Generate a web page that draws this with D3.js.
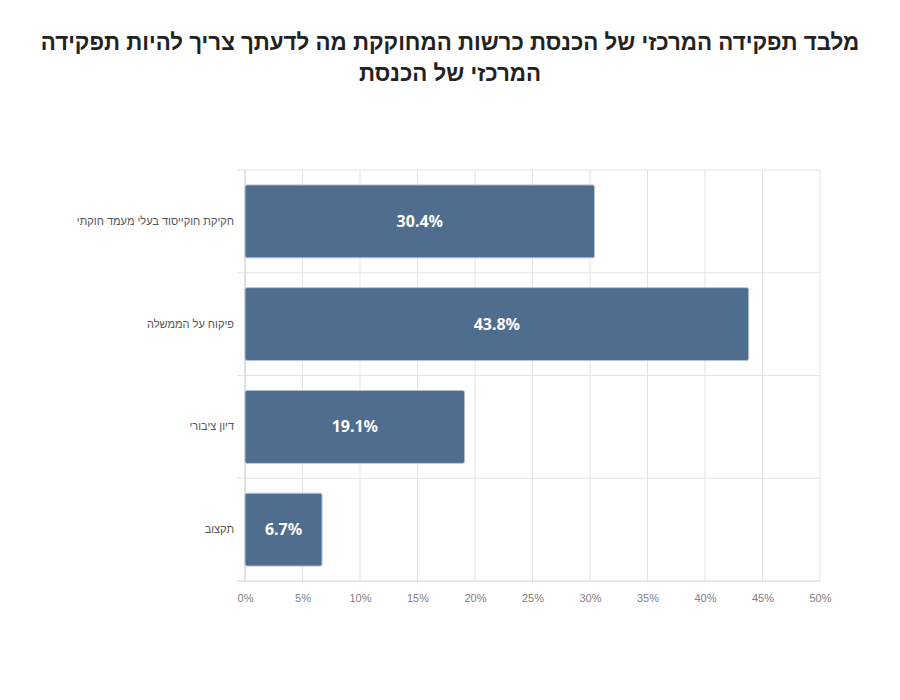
<!DOCTYPE html>
<html lang="he">
<head>
<meta charset="utf-8">
<script src="https://cdn.jsdelivr.net/npm/d3@7"></script>
<style>
  body { margin: 0; background: #fff; }
  svg text { font-family: "Liberation Sans", Arial, "DejaVu Sans", sans-serif; }
</style>
</head>
<body>
<div id="chart"></div>
<script>
// chart data
var titleLines = ["מלבד תפקידה המרכזי של הכנסת כרשות המחוקקת מה לדעתך צריך להיות תפקידה",
                  "המרכזי של הכנסת"];
var categories = ["חקיקת חוקייסוד בעלי מעמד חוקתי", "פיקוח על הממשלה", "דיון ציבורי", "תקצוב"];
var values = [30.4, 43.8, 19.1, 6.7];
var xTicks = [0, 5, 10, 15, 20, 25, 30, 35, 40, 45, 50];

var W = 900, H = 700;
var margin = {top: 170, right: 80, bottom: 119, left: 245},
    width = W - margin.left - margin.right,
    height = H - margin.top - margin.bottom;

var svg = d3.select("#chart")
    .append("svg")
    .attr("width", W)
    .attr("height", H);

// title, font size fitted so the first line is as wide as the original
var titleWidth = 820;
var title = svg.append("text")
    .attr("x", W / 2)
    .attr("y", 50)
    .attr("text-anchor", "middle")
    .attr("direction", "rtl")
    .style("font-size", "25px")
    .style("font-weight", "bold")
    .style("fill", "#222");
var tspans = title.selectAll("tspan")
    .data(titleLines)
    .enter()
    .append("tspan")
    .attr("x", W / 2)
    .attr("dy", function(d, i) { return i == 0 ? 0 : 31; })
    .text(function(d) { return d; });
var fs = Math.floor(25 * titleWidth / tspans.node().getComputedTextLength() * 10) / 10;
title.style("font-size", fs + "px");

var g = svg.append("g")
    .attr("transform", "translate(" + margin.left + "," + margin.top + ")");

var x = d3.scaleLinear().domain([0, 50]).range([0, width]);

// band edges for grid, padded band for bars
var yGrid = d3.scaleBand().domain(categories).range([0, height]).padding(0);
var yBar = d3.scaleBand().domain(categories).range([0, height])
    .paddingInner(0.29).paddingOuter(0.145);

// vertical grid lines
g.selectAll(".vgrid")
    .data(xTicks)
    .enter()
    .append("line")
    .attr("x1", function(d) { return x(d); })
    .attr("x2", function(d) { return x(d); })
    .attr("y1", 0)
    .attr("y2", height)
    .attr("stroke", "#e3e3e3")
    .attr("stroke-width", 1);

// horizontal grid lines at category boundaries
var edges = categories.map(function(c) { return yGrid(c); });
g.selectAll(".hgrid")
    .data(edges)
    .enter()
    .append("line")
    .attr("x1", -8)
    .attr("x2", width)
    .attr("y1", function(d) { return d; })
    .attr("y2", function(d) { return d; })
    .attr("stroke", "#e3e3e3")
    .attr("stroke-width", 1);

// left axis line
g.append("line")
    .attr("x1", 0).attr("x2", 0)
    .attr("y1", 0).attr("y2", height)
    .attr("stroke", "#cfcfcf");

// bottom axis
var xAxis = g.append("g")
    .attr("transform", "translate(0," + height + ")")
    .call(d3.axisBottom(x).tickValues(xTicks).tickSize(0).tickPadding(13)
        .tickFormat(function(d) { return d + "%"; }));
xAxis.select(".domain").remove();
xAxis.append("line")
    .attr("x1", -8).attr("x2", width)
    .attr("stroke", "#cfcfcf");
xAxis.selectAll("text")
    .style("font-size", "11px")
    .style("fill", "#808080");

// category labels
var yAxis = g.append("g")
    .call(d3.axisLeft(yGrid).tickSize(0).tickPadding(11));
yAxis.select(".domain").remove();
yAxis.selectAll("text")
    .attr("direction", "rtl")
    .attr("text-anchor", "start")
    .style("font-size", "11px")
    .style("fill", "#555");

var data = categories.map(function(c, i) { return {cat: c, val: values[i]}; });

// bars
g.selectAll(".bar")
    .data(data)
    .enter()
    .append("rect")
    .attr("x", x(0))
    .attr("y", function(d) { return yBar(d.cat); })
    .attr("width", function(d) { return x(d.val) - x(0); })
    .attr("height", yBar.bandwidth())
    .attr("rx", 2)
    .attr("fill", "#4f6d8f")
    .attr("stroke", "#b9c6d6")
    .attr("stroke-width", 1);

// value labels
g.selectAll(".lbl")
    .data(data)
    .enter()
    .append("text")
    .attr("x", function(d) { return (x(0) + x(d.val)) / 2; })
    .attr("y", function(d) { return yBar(d.cat) + yBar.bandwidth() / 2; })
    .attr("dy", "0.35em")
    .attr("text-anchor", "middle")
    .style("font-family", "'Noto Sans', 'Open Sans', sans-serif")
    .style("font-size", "16px")
    .style("font-weight", "bold")
    .style("fill", "#fff")
    .text(function(d) { return d.val.toFixed(1) + "%"; });
</script>
</body>
</html>
